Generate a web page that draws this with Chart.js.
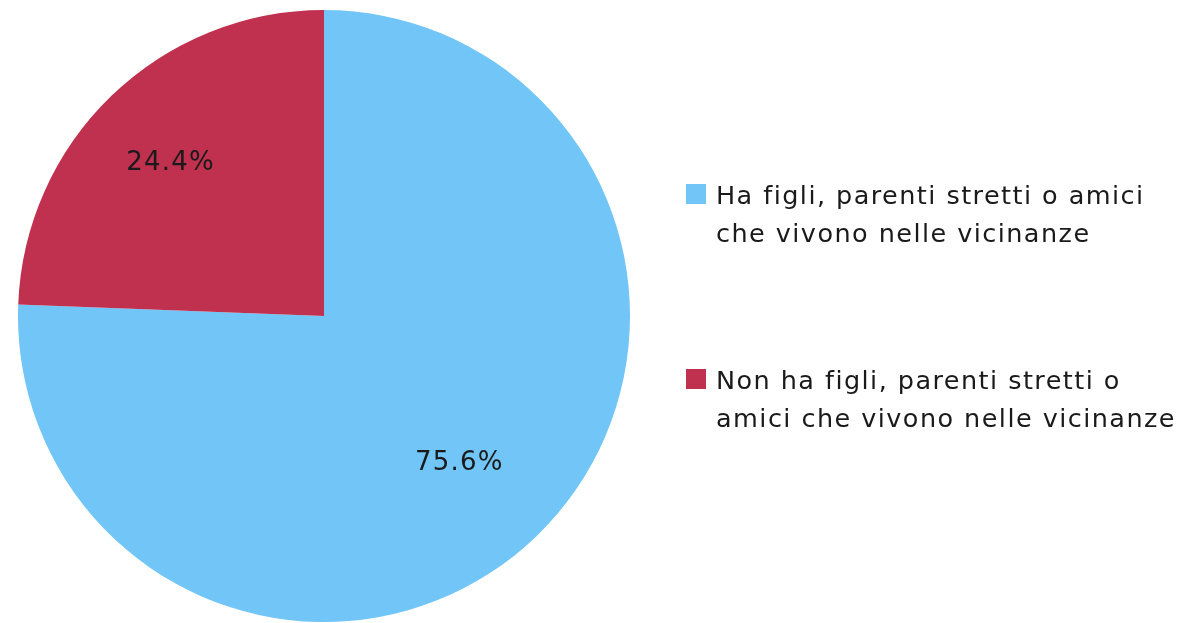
<!DOCTYPE html>
<html>
<head>
<meta charset="utf-8">
<script src="https://cdn.jsdelivr.net/npm/chart.js@4"></script>
<style>
  html, body { margin: 0; padding: 0; background: #fff; }
  #wrap { position: relative; width: 1182px; height: 623px; }
  #legend { position: absolute; left: 686px; top: 176px; font-family: "DejaVu Sans", sans-serif; font-size: 25.5px; letter-spacing: 1.45px; color: #1a1a1a; line-height: 38px; }
  .item { position: relative; padding-left: 30px; margin-bottom: 109px; white-space: nowrap; }
  .box { position: absolute; left: 0; top: 8px; width: 20px; height: 20px; }
</style>
</head>
<body>
<div id="wrap">
  <canvas id="pieChart" width="1182" height="623"></canvas>
  <div id="legend"></div>
</div>
<script>
const labels = [
  ['Ha figli, parenti stretti o amici', 'che vivono nelle vicinanze'],
  ['Non ha figli, parenti stretti o', 'amici che vivono nelle vicinanze']
];
const values = [75.6, 24.4];
const colors = ['#72C5F7', '#C0304F'];

// percentage text inside each slice
const sliceLabels = {
  id: 'sliceLabels',
  afterDatasetsDraw(chart) {
    const ctx = chart.ctx;
    const meta = chart.getDatasetMeta(0);
    ctx.save();
    ctx.font = '26px "DejaVu Sans", sans-serif';
    ctx.letterSpacing = '1.2px';
    ctx.fillStyle = '#1a1a1a';
    ctx.textAlign = 'center';
    ctx.textBaseline = 'middle';
    meta.data.forEach((arc, i) => {
      const mid = (arc.startAngle + arc.endAngle) / 2;
      const r = arc.outerRadius * 0.68;
      ctx.fillText(values[i].toFixed(1) + '%', arc.x + Math.cos(mid) * r - 9, arc.y + Math.sin(mid) * r - 3);
    });
    ctx.restore();
  }
};

const ctx = document.getElementById('pieChart').getContext('2d');
const pieChart = new Chart(ctx, {
  type: 'pie',
  data: {
    labels: labels,
    datasets: [{
      data: values,
      backgroundColor: colors,
      borderWidth: 0
    }]
  },
  options: {
    responsive: false,
    animation: false,
    layout: { padding: { left: 18, right: 552, top: 10, bottom: 1 } },
    plugins: {
      legend: { display: false },
      tooltip: { enabled: false }
    }
  },
  plugins: [sliceLabels]
});

// html legend built from the chart data
const legend = document.getElementById('legend');
labels.forEach((lines, i) => {
  const item = document.createElement('div');
  item.className = 'item';
  const box = document.createElement('span');
  box.className = 'box';
  box.style.background = colors[i];
  item.appendChild(box);
  lines.forEach(t => {
    const d = document.createElement('div');
    d.textContent = t;
    item.appendChild(d);
  });
  legend.appendChild(item);
});
</script>
</body>
</html>
